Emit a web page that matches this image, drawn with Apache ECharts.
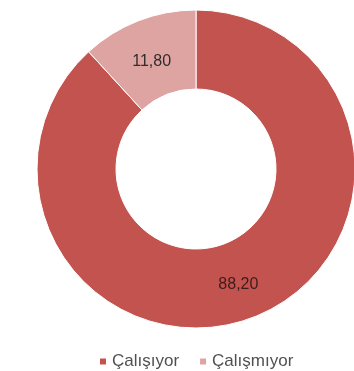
<!DOCTYPE html>
<html>
<head>
<meta charset="utf-8">
<script src="https://cdn.jsdelivr.net/npm/echarts@6/dist/echarts.min.js"></script>
<style>
  html, body { margin: 0; padding: 0; background: #fff; }
  #chart { width: 354px; height: 371px; }
</style>
</head>
<body>
<div id="chart"></div>
<script>
// Employment status shares (percent)
const categories = ['Çalışıyor', 'Çalışmıyor'];
const values = [88.20, 11.80];
const colors = ['#c3534f', '#dea4a2'];
// Nudge for each slice label, in pixels
const labelNudge = [[-2, 1], [0, 7]];

const fmt = v => v.toFixed(2).replace('.', ',');

const chart = echarts.init(document.getElementById('chart'), null, { renderer: 'canvas' });

chart.setOption({
  animation: false,
  color: colors,
  legend: {
    data: categories,
    left: 93,
    top: 348,
    itemWidth: 8,
    itemHeight: 8,
    itemGap: 19,
    icon: 'rect',
    textStyle: { fontFamily: 'Liberation Sans, Arial, sans-serif', fontSize: 17, color: '#505050' }
  },
  series: [{
    type: 'pie',
    center: [196, 169],
    radius: [80, 159],
    startAngle: 90,
    clockwise: true,
    silent: true,
    itemStyle: { borderColor: '#fff', borderWidth: 1 },
    label: {
      show: true,
      position: 'inside',
      fontFamily: 'Liberation Sans, Arial, sans-serif',
      fontSize: 16,
      formatter: p => fmt(p.value)
    },
    labelLine: { show: false },
    data: categories.map((name, i) => ({
      name,
      value: values[i],
      label: {
        color: i === 0 ? '#3d1c1c' : '#332c2c',
        offset: labelNudge[i]
      }
    }))
  }]
});
</script>
</body>
</html>
